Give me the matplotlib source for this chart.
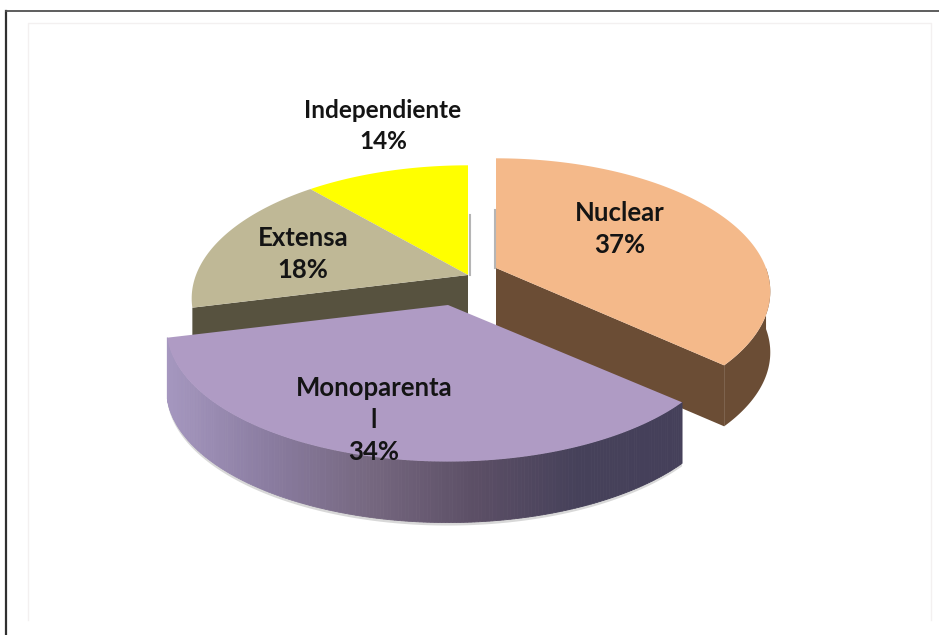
import numpy as np
import matplotlib
matplotlib.use("Agg")
import matplotlib.pyplot as plt
from matplotlib.colors import LinearSegmentedColormap

# chart data
labels = ["Nuclear", "Monoparenta\nl", "Extensa", "Independiente"]
pct_labels = ["37%", "34%", "18%", "14%"]
# slice sizes as measured on the picture (the printed labels add up to 103)
shares = [36.6, 34.5, 17.5, 11.4]
top_colors = ["#f4b98a", "#af9bc4", "#bfb896", "#ffff00"]
side_colors = ["#6b4d35", None, "#57523f", "#8a8a20"]

# geometry of the fake 3d pie, in pixels
apex = [(496, 268), (448, 305), (468, 275), (468, 275)]
rx_list = [270, 277, 272, 272]
RY = 129.0
K = 0.176
DEPTH = 61

edges = 360 * np.cumsum([0] + shares) / sum(shares)

mono_cmap = LinearSegmentedColormap.from_list(
    "mono", ["#a597bf", "#8a7ca0", "#75677f", "#5c4f66", "#46415a", "#45405a"])


def project(theta, i):
    t = np.radians(theta)
    x, y = np.sin(t), np.cos(t)
    d = 1 + K * y
    return apex[i][0] + rx_list[i] * x / d, apex[i][1] - RY * y / d


fig = plt.figure(figsize=(9.39, 6.35), dpi=100)
ax = fig.add_axes([0, 0, 1, 1])
ax.set_xlim(0, 939)
ax.set_ylim(635, 0)
ax.axis("off")

# frame
ax.plot([6, 6], [635, 11], color="#303030", lw=1.6)
ax.plot([6, 939], [11, 11], color="#505050", lw=1.3)
ax.plot([28, 28, 931, 931], [620, 23, 23, 620], color="#f3f0f0", lw=1.0)

# shadow lines next to the gap
ax.plot([469.5, 469.5], [215, 275], color="#b5b5b5", lw=1.5)
ax.plot([494.5, 494.5], [210, 268], color="#b5b5b5", lw=1.5)

# back to front: independiente, extensa, nuclear, monoparental
for i in [3, 2, 0, 1]:
    theta = np.linspace(edges[i], edges[i + 1], 200)
    px, py = project(theta, i)

    if i == 2:
        # cut face towards the viewer
        ax.fill([px[0], apex[i][0], apex[i][0], px[0]],
                [py[0], apex[i][1], apex[i][1] + DEPTH, py[0] + DEPTH],
                color=side_colors[i], lw=0)
    if i == 0:
        # cut face and the outer rim on the right
        ax.fill([apex[i][0], px[-1], px[-1], apex[i][0]],
                [apex[i][1], py[-1], py[-1] + DEPTH, apex[i][1] + DEPTH],
                color=side_colors[i], lw=0)
        front = theta >= 90
        ax.fill(np.r_[px[front], px[front][::-1]],
                np.r_[py[front], py[front][::-1] + DEPTH],
                color=side_colors[i], lw=0)
    if i == 1:
        # soft shadow below the rim
        ax.fill(np.r_[px, px[::-1]], np.r_[py + DEPTH + 3, py[::-1] + DEPTH - 3],
                color="#d8d8d8", lw=0)
        # rim with a horizontal gradient
        xmin, xmax = px.min(), px.max()
        for j in range(len(px) - 1):
            c = mono_cmap((px[j] - xmin) / (xmax - xmin))
            ax.fill([px[j], px[j + 1], px[j + 1], px[j]],
                    [py[j], py[j + 1], py[j + 1] + DEPTH, py[j] + DEPTH],
                    color=c, lw=0.6)

    ax.fill(np.r_[apex[i][0], px], np.r_[apex[i][1], py], color=top_colors[i], lw=0)

# texts
text_pos = [(620, 229), (374, 420), (303, 254), (383, 126)]
text_size = [18.5, 18.5, 18.5, 17.5]
for lab, pct, (tx, ty), fs in zip(labels, pct_labels, text_pos, text_size):
    ax.text(tx, ty, lab + "\n" + pct, ha="center", va="center", family="Lato",
            weight="bold", fontsize=fs, color="#141414", linespacing=1.42)

fig.savefig("out.png", dpi=100, facecolor="white")
